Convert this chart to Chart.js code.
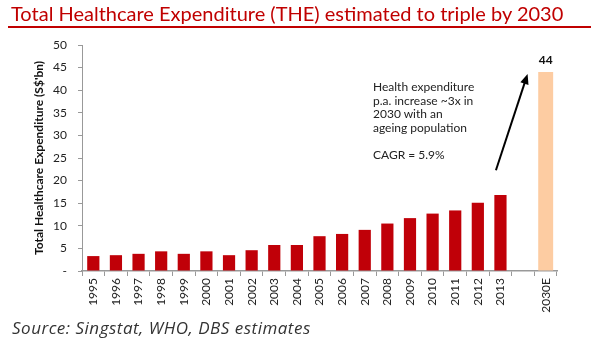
<!DOCTYPE html>
<html>
<head>
<meta charset="utf-8">
<script src="https://cdn.jsdelivr.net/npm/chart.js@4/dist/chart.umd.min.js"></script>
<style>
  body { margin: 0; background: #fff; }
  #wrap { position: relative; width: 600px; height: 360px; overflow: hidden; }
  #chart { position: absolute; left: 0; top: 0; }
  .title {
    position: absolute; left: 11px; top: 1px;
    font: 20px Lato, sans-serif; color: #c00000; white-space: nowrap;
  }
  .rule { position: absolute; left: 8px; top: 26px; width: 583px; height: 2px; background: #c00000; }
  .note {
    position: absolute; left: 373px; top: 80px;
    font: 12px Lato, sans-serif; line-height: 13.5px; color: #222;
  }
  .source {
    position: absolute; left: 12px; top: 316px;
    font: italic 17px "Open Sans", sans-serif; letter-spacing: 0.5px; color: #333; white-space: nowrap;
  }
</style>
</head>
<body>
<div id="wrap">
  <canvas id="chart" width="600" height="360"></canvas>
  <div class="title">Total Healthcare Expenditure (THE) estimated to triple by 2030</div>
  <div class="rule"></div>
  <div class="note">Health expenditure<br>p.a. increase ~3x in<br>2030 with an<br>ageing population<br><br>CAGR = 5.9%</div>
  <div class="source">Source: Singstat, WHO, DBS estimates</div>
</div>
<script>
// Data
const years = ['1995', '1996', '1997', '1998', '1999', '2000', '2001', '2002', '2003', '2004',
  '2005', '2006', '2007', '2008', '2009', '2010', '2011', '2012', '2013', '', '2030E'];
const actual = [3.3, 3.5, 3.8, 4.35, 3.8, 4.35, 3.5, 4.6, 5.75, 5.75,
  7.7, 8.2, 9.1, 10.5, 11.7, 12.7, 13.4, 15.1, 16.8, null, null];
const estimate = [null, null, null, null, null, null, null, null, null, null,
  null, null, null, null, null, null, null, null, null, null, 44];
const yTicks = [0, 5, 10, 15, 20, 25, 30, 35, 40, 45, 50];

// arrow from / to, in (category index, value)
const arrowFrom = [17.8, 22.3];
const arrowTo = [19.2, 43.6];

const tickFont = { family: 'Lato, sans-serif', size: 12 };

// "44" over the estimate bar + the arrow
const extras = {
  id: 'extras',
  afterDatasetsDraw(chart) {
    const ctx = chart.ctx;
    const xs = chart.scales.x, ys = chart.scales.y;
    const meta = chart.getDatasetMeta(1);
    ctx.save();
    ctx.fillStyle = '#111';
    ctx.font = 'bold 12px Lato, sans-serif';
    ctx.textAlign = 'center';
    ctx.textBaseline = 'bottom';
    meta.data.forEach((bar, i) => {
      if (estimate[i] == null) return;
      ctx.fillText(String(estimate[i]), bar.x, bar.y - 6);
    });

    const x1 = xs.getPixelForValue(arrowFrom[0]), y1 = ys.getPixelForValue(arrowFrom[1]);
    const x2 = xs.getPixelForValue(arrowTo[0]), y2 = ys.getPixelForValue(arrowTo[1]);
    const ang = Math.atan2(y2 - y1, x2 - x1);
    ctx.strokeStyle = '#000';
    ctx.fillStyle = '#000';
    ctx.lineWidth = 2;
    ctx.beginPath();
    ctx.moveTo(x1, y1);
    ctx.lineTo(x2 - 6 * Math.cos(ang), y2 - 6 * Math.sin(ang));
    ctx.stroke();
    ctx.beginPath();
    ctx.moveTo(x2, y2);
    ctx.lineTo(x2 - 11 * Math.cos(ang - 0.4), y2 - 11 * Math.sin(ang - 0.4));
    ctx.lineTo(x2 - 11 * Math.cos(ang + 0.4), y2 - 11 * Math.sin(ang + 0.4));
    ctx.closePath();
    ctx.fill();
    ctx.restore();
  }
};

new Chart(document.getElementById('chart'), {
  type: 'bar',
  data: {
    labels: years,
    datasets: [
      { data: actual, backgroundColor: '#c00008', barPercentage: 0.54, categoryPercentage: 1 },
      { data: estimate, backgroundColor: '#fdcca2', barPercentage: 0.66, categoryPercentage: 1 }
    ]
  },
  options: {
    responsive: false,
    animation: false,
    layout: { padding: { top: 45, right: 43, left: 0, bottom: 0 } },
    plugins: { legend: { display: false }, tooltip: { enabled: false } },
    scales: {
      x: {
        stacked: true,
        afterFit: s => { s.height = 89; },
        grid: { drawOnChartArea: false, tickLength: 5, color: '#999' },
        border: { color: '#999', width: 1.5 },
        ticks: { font: tickFont, color: '#222', minRotation: 90, maxRotation: 90, autoSkip: false, padding: 2 }
      },
      y: {
        stacked: true,
        min: 0, max: 50,
        afterFit: s => { s.width = 82; },
        afterBuildTicks: s => { s.ticks = yTicks.map(v => ({ value: v })); },
        grid: { drawOnChartArea: false, tickLength: 4, color: '#999' },
        border: { color: '#999', width: 1 },
        ticks: { font: tickFont, color: '#222', padding: 11, callback: v => v === 0 ? '-' : v },
        title: {
          display: true,
          text: "Total Healthcare Expenditure (S$'bn)",
          font: { family: 'Lato, sans-serif', size: 12, weight: 'bold' },
          color: '#111',
          padding: { top: 32, bottom: 0 }
        }
      }
    }
  },
  plugins: [extras]
});
</script>
</body>
</html>
